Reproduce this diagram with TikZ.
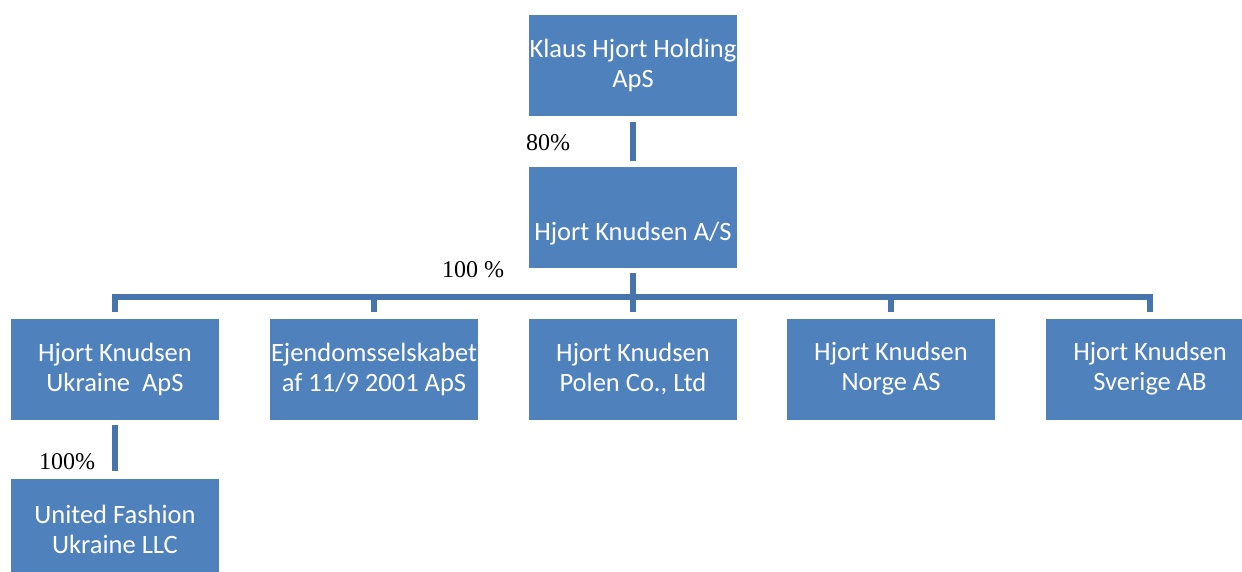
\documentclass[tikz,border=0pt]{standalone}
\usepackage{fontspec}
\setmainfont{Liberation Serif}
\newfontfamily\boxfont{Carlito}
\usetikzlibrary{positioning}
\definecolor{boxblue}{HTML}{4F81BD}
\definecolor{lineblue}{HTML}{4675AD}

\begin{document}
\begin{tikzpicture}[x=1pt,y=-1pt,
  company/.style={fill=boxblue, text=white, minimum width=208pt, minimum height=101pt,
    inner sep=0pt, align=center, font=\boxfont\fontsize{26.5}{30}\selectfont},
  link/.style={draw=lineblue, line width=6pt},
  share/.style={font=\fontsize{24}{28}\selectfont, inner sep=0pt}
  ]
  \useasboundingbox (0,0) rectangle (1242,572);
  \node[company] (holding) at (633,65.5) {Klaus Hjort Holding\\ApS};
  \node[company] (knudsen) at (633,217.5) {\strut\\Hjort Knudsen A/S};
  \node[company] (ukraine) at (115,369) {Hjort Knudsen\\Ukraine~ ApS};
  \node[company] (ejendom) at (374,369) {Ejendomsselskabet\\af 11/9 2001 ApS};
  \node[company] (polen) at (633,369) {Hjort Knudsen\\Polen Co., Ltd};
  \node[company] (norge) at (891,369) {Hjort Knudsen\\Norge AS};
  \node[company] (sverige) at (1150,369) {Hjort Knudsen\\Sverige AB};
  \node[company] (fashion) at (115,529) {United Fashion\\Ukraine LLC};
  \coordinate (bus) at (633,297);

  \draw[link] ([yshift=-6pt]holding.south) -- ([yshift=6pt]knudsen.north);
  \draw[link] ([yshift=-5pt]knudsen.south) -- (knudsen.south |- bus);
  \draw[link] ([yshift=6pt]ukraine.north) |- (bus) -| ([yshift=6pt]sverige.north);
  \foreach \c in {ejendom,polen,norge}
    \draw[link] (\c.north |- bus) -- ([yshift=6pt]\c.north);
  \draw[link] ([yshift=-5pt]ukraine.south) -- ([yshift=7pt]fashion.north);

  \node[share] (p80) at (548,143) {80\%};
  \node[share] (p100a) at (473,270) {100 \%};
  \node[share] (p100b) at (67,462) {100\%};
\end{tikzpicture}
\end{document}
